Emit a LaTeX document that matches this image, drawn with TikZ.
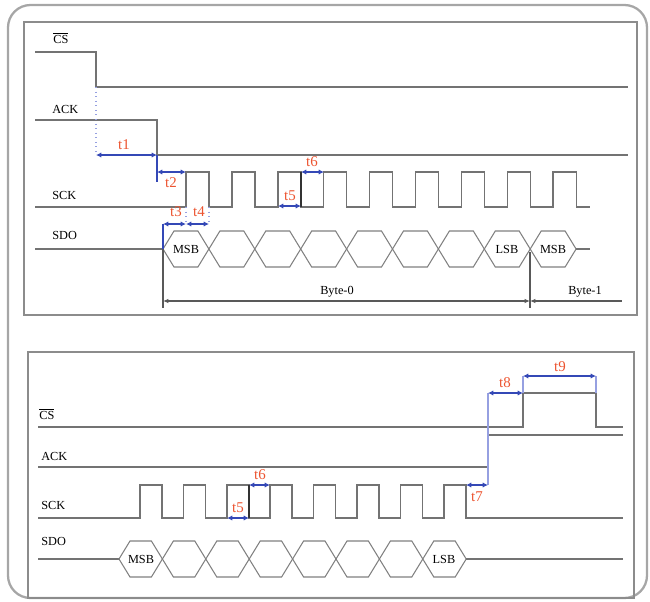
\documentclass[tikz,border=0pt]{standalone}
\usepackage{fontspec}
\setmainfont{Liberation Serif}
\usetikzlibrary{arrows.meta}

\definecolor{tred}{RGB}{236,84,48}
\definecolor{tblue}{RGB}{52,72,182}
\definecolor{tlight}{RGB}{150,160,225}

\tikzset{
  outer/.style={draw=black!35, line width=1.3pt, rounded corners=0.45cm},
  frame/.style={draw=black!45, line width=0.8pt},
  sig/.style={draw=black!55, line width=0.8pt},
  bus/.style={draw=black!50, line width=0.6pt},
  lbl/.style={font=\fontsize{7}{8}\selectfont, inner sep=0pt},
  tlbl/.style={font=\fontsize{8.5}{9}\selectfont, text=tred, inner sep=0pt},
  tarr/.style={draw=tblue, line width=0.6pt, {Latex[length=3pt,width=3pt]}-{Latex[length=3pt,width=3pt]}},
  tmark/.style={draw=tlight, line width=0.6pt},
  edge/.style={draw=black!80, line width=0.9pt},
  byte/.style={draw=black!65, line width=0.6pt},
}

\begin{document}
\begin{tikzpicture}[x=0.02cm, y=-0.02cm]
  \useasboundingbox (0,0) rectangle (650,602);
  % frames
  \draw[outer] (8,5) rectangle (647,598);
  \draw[frame] (24,22) rectangle (637,315);
  \draw[frame] (28,352) rectangle (634,598);

  % ---- top panel: start of transfer
  \node[lbl, anchor=west] (csA) at (53,38) {$\overline{\mbox{CS}}$};
  \node[lbl, anchor=west] (ackA) at (52,109) {ACK};
  \node[lbl, anchor=west] (sckA) at (52,195) {SCK};
  \node[lbl, anchor=west] (sdoA) at (52,235) {SDO};

  \draw[sig] (35,52) -- (96,52) -- (96,87) -- (628,87);
  \draw[sig] (35,120) -- (157,120) -- (157,155) -- (628,155);
  \draw[sig] (35,207) foreach \i in {0,...,8} {
      -- ({186+45.9*\i},207) -- ({186+45.9*\i},172)
      -- ({209+45.9*\i},172) -- ({209+45.9*\i},207) } -- (590,207);
  \draw[sig] (35,249) -- (163,249);
  \foreach \i in {0,...,8} {
    \pgfmathsetmacro{\a}{163+45.9*\i}
    \pgfmathsetmacro{\b}{163+45.9*(\i+1)}
    \draw[bus] (\a,249) -- (\a+11,231) -- (\b-11,231) -- (\b,249)
      -- (\b-11,267) -- (\a+11,267) -- cycle;
  }
  \node[lbl] (msbA) at (186,249) {MSB};
  \node[lbl] (lsbA) at (507,249) {LSB};
  \node[lbl] (msbB) at (553,249) {MSB};
  \draw[sig] (576,249) -- (590,249);

  % timings
  \draw[tmark, dotted] (96,87) -- (96,155);
  \draw[tarr] (96,155) -- (157,155);
  \node[tlbl] (t1) at (124,145) {t1};
  \draw[draw=tblue, line width=0.6pt] (157,155) -- (157,182);
  \draw[tarr] (157,172) -- (186,172);
  \node[tlbl] (t2) at (171,183) {t2};
  \draw[draw=tblue, line width=0.6pt] (163,224) -- (163,249);
  \draw[tmark, dotted] (186,207) -- (186,224);
  \draw[tmark, dotted] (209,207) -- (209,224);
  \draw[tarr] (163,224) -- (186,224);
  \draw[tarr] (186,224) -- (209,224);
  \node[tlbl] (t3) at (176,212) {t3};
  \node[tlbl] (t4) at (199,212) {t4};
  \draw[edge] (301,172) -- (301,207);
  \draw[tarr] (278,206) -- (301,206);
  \node[tlbl] (t5) at (290,196) {t5};
  \draw[tarr] (301,172) -- (324,172);
  \node[tlbl] (t6) at (312,162) {t6};

  % byte marks
  \draw[byte] (163,249) -- (163,308);
  \draw[byte] (530,252) -- (530,308);
  \draw[byte, {Latex[length=3pt,width=2.5pt]}-{Latex[length=3pt,width=2.5pt]}] (163,301) -- (530,301);
  \draw[byte, {Latex[length=3pt,width=2.5pt]}-] (530,301) -- (622,301);
  \node[lbl] (byte0) at (337,292) {Byte-0};
  \node[lbl] (byte1) at (585,292) {Byte-1};

  % ---- bottom panel: end of transfer
  \node[lbl, anchor=west] (csB) at (39,414) {$\overline{\mbox{CS}}$};
  \node[lbl, anchor=west] (ackB) at (41,456) {ACK};
  \node[lbl, anchor=west] (sckB) at (41,505) {SCK};
  \node[lbl, anchor=west] (sdoB) at (41,541) {SDO};

  \draw[sig] (38,427) -- (523,427) -- (523,393) -- (596,393) -- (596,427) -- (623,427);
  \draw[sig] (38,467) -- (488,467) -- (488,435) -- (623,435);
  \draw[sig] (38,518) foreach \i in {0,...,7} {
      -- ({140+43.4*\i},518) -- ({140+43.4*\i},485)
      -- ({162+43.4*\i},485) -- ({162+43.4*\i},518) } -- (623,518);
  \draw[sig] (38,559) -- (119,559);
  \foreach \i in {0,...,7} {
    \pgfmathsetmacro{\a}{119+43.4*\i}
    \pgfmathsetmacro{\b}{119+43.4*(\i+1)}
    \draw[bus] (\a,559) -- (\a+11,541) -- (\b-11,541) -- (\b,559)
      -- (\b-11,577) -- (\a+11,577) -- cycle;
  }
  \node[lbl] (msbC) at (141,559) {MSB};
  \node[lbl] (lsbC) at (444,559) {LSB};
  \draw[sig] (466,559) -- (623,559);

  % timings
  \draw[edge] (249,485) -- (249,518);
  \draw[tarr] (227,518) -- (249,518);
  \node[tlbl] (t5b) at (238,508) {t5};
  \draw[tarr] (249,485) -- (270,485);
  \node[tlbl] (t6b) at (260,475) {t6};
  \draw[tmark] (488,485) -- (488,393);
  \draw[tarr] (466,485) -- (488,485);
  \node[tlbl] (t7) at (477,497) {t7};
  \draw[tarr] (488,393) -- (523,393);
  \node[tlbl] (t8) at (505,383) {t8};
  \draw[tmark] (523,393) -- (523,376);
  \draw[tmark] (596,393) -- (596,376);
  \draw[tarr] (523,376) -- (596,376);
  \node[tlbl] (t9) at (560,367) {t9};
\end{tikzpicture}
\end{document}
